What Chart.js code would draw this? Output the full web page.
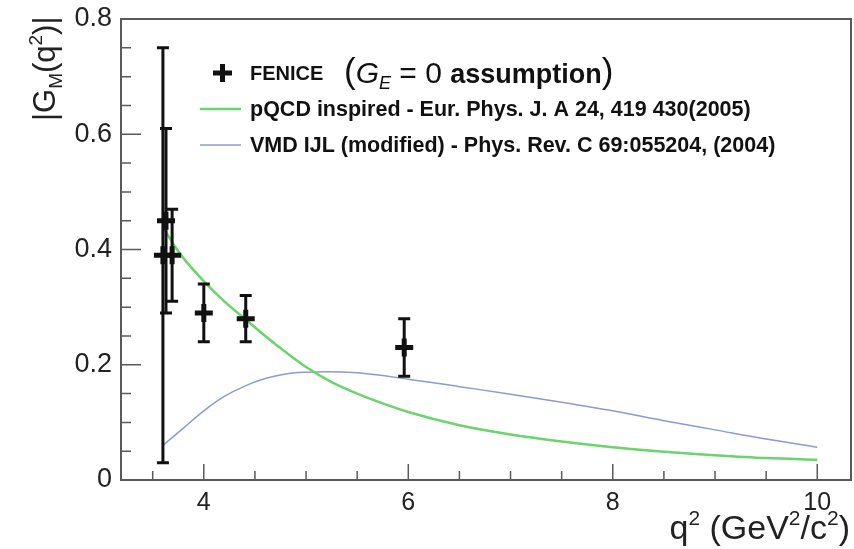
<!DOCTYPE html>
<html>
<head>
<meta charset="utf-8">
<script src="https://cdn.jsdelivr.net/npm/chart.js@4/dist/chart.umd.min.js"></script>
<style>
  html, body { margin: 0; padding: 0; background: #fff; overflow: hidden; }
  #wrap { width: 854px; height: 549px; overflow: hidden; }
</style>
</head>
<body>
<div id="wrap"><canvas id="c" width="865" height="549"></canvas></div>
<script>
// FENICE points
const q2 = [3.6, 3.63, 3.69, 4.0, 4.41, 5.96];
const gm = [0.39, 0.45, 0.39, 0.29, 0.28, 0.23];
const gmLow = [0.03, 0.29, 0.31, 0.24, 0.24, 0.18];
const gmHigh = [0.75, 0.61, 0.47, 0.34, 0.32, 0.28];

// pQCD inspired curve
const pqcdQ2 = [3.6, 3.7, 3.8, 4.0, 4.2, 4.4, 4.6, 4.8, 5.0, 5.25, 5.5, 5.75, 6.0, 6.5, 7.0, 7.5, 8.0, 8.5, 9.0, 9.5, 10.0];
const pqcdGM = [0.44, 0.41, 0.385, 0.345, 0.31, 0.28, 0.25, 0.222, 0.196, 0.17, 0.15, 0.133, 0.118, 0.095, 0.079, 0.067, 0.057, 0.049, 0.043, 0.038, 0.035];

// VMD IJL (modified) curve
const vmdQ2 = [3.6, 3.8, 4.0, 4.2, 4.4, 4.6, 4.8, 5.0, 5.2, 5.5, 6.0, 6.5, 7.0, 7.5, 8.0, 8.5, 9.0, 9.5, 10.0];
const vmdGM = [0.06, 0.09, 0.12, 0.145, 0.163, 0.176, 0.184, 0.187, 0.188, 0.186, 0.175, 0.162, 0.149, 0.135, 0.12, 0.103, 0.087, 0.071, 0.057];

const xTicks = [4, 6, 8, 10];
const yTicks = [0, 0.2, 0.4, 0.6, 0.8];

const GREEN = "rgb(108, 212, 108)";
const BLUE = "rgb(140, 154, 214)";
const FRAME = "#5a5a5a";
const FONT = "'Liberation Sans', Arial, sans-serif";

function pts(xs, ys) {
  return xs.map((x, i) => ({ x: x, y: ys[i] }));
}

// draw a list of text runs left to right, returns the width
function runs(ctx, list, x, y, measureOnly) {
  let cx = x;
  for (const r of list) {
    ctx.font = r.f;
    if (!measureOnly) ctx.fillText(r.t, cx, y + (r.dy || 0));
    cx += ctx.measureText(r.t).width;
  }
  return cx - x;
}

const errorBars = {
  id: "errorBars",
  afterDatasetsDraw(chart) {
    const { ctx, scales } = chart;
    ctx.save();
    ctx.strokeStyle = "#111";
    ctx.lineWidth = 3;
    q2.forEach((x, i) => {
      const px = scales.x.getPixelForValue(x);
      const top = scales.y.getPixelForValue(gmHigh[i]);
      const bot = scales.y.getPixelForValue(gmLow[i]);
      ctx.beginPath();
      ctx.moveTo(px, top);
      ctx.lineTo(px, bot);
      ctx.moveTo(px - 6, top);
      ctx.lineTo(px + 6, top);
      ctx.moveTo(px - 6, bot);
      ctx.lineTo(px + 6, bot);
      ctx.stroke();
    });
    ctx.restore();
  },
};

const frame = {
  id: "rootFrame",
  afterDraw(chart) {
    const { ctx, chartArea: a, scales } = chart;
    ctx.save();
    ctx.strokeStyle = FRAME;
    ctx.lineWidth = 2;
    ctx.strokeRect(a.left, a.top, a.right - a.left, a.bottom - a.top);
    ctx.lineWidth = 1.5;
    ctx.beginPath();
    for (let v = 3.5; v <= 10.01; v += 0.5) {
      const px = scales.x.getPixelForValue(v);
      const len = Math.abs(v - Math.round(v / 2) * 2) < 1e-6 ? 16 : 9;
      ctx.moveTo(px, a.bottom);
      ctx.lineTo(px, a.bottom - len);
    }
    for (let v = 0.05; v < 0.8; v += 0.05) {
      const py = scales.y.getPixelForValue(v);
      const major = Math.abs(v * 5 - Math.round(v * 5)) < 1e-6;
      ctx.moveTo(a.left, py);
      ctx.lineTo(a.left + (major ? 20 : 10), py);
    }
    ctx.stroke();

    // axis titles
    ctx.fillStyle = "#222";
    ctx.textBaseline = "alphabetic";
    const xt = [
      { t: "q", f: "34px " + FONT },
      { t: "2", f: "21px " + FONT, dy: -14 },
      { t: " (GeV", f: "34px " + FONT },
      { t: "2", f: "21px " + FONT, dy: -14 },
      { t: "/c", f: "34px " + FONT },
      { t: "2", f: "21px " + FONT, dy: -14 },
      { t: ")", f: "34px " + FONT },
    ];
    const w = runs(ctx, xt, 0, 0, true);
    runs(ctx, xt, 850 - w, 539);

    ctx.translate(55, 121);
    ctx.rotate(-Math.PI / 2);
    runs(ctx, [
      { t: "|G", f: "31px " + FONT },
      { t: "M", f: "19px " + FONT, dy: 7 },
      { t: "(q", f: "31px " + FONT },
      { t: "2", f: "19px " + FONT, dy: -13 },
      { t: ")|", f: "31px " + FONT },
    ], 0, 0);
    ctx.restore();

    // legend
    ctx.save();
    ctx.fillStyle = "#111";
    ctx.strokeStyle = "#111";
    ctx.lineWidth = 5;
    ctx.beginPath();
    ctx.moveTo(213, 73); ctx.lineTo(232, 73);
    ctx.moveTo(222.5, 64); ctx.lineTo(222.5, 82);
    ctx.stroke();
    ctx.textBaseline = "alphabetic";
    runs(ctx, [{ t: "FENICE", f: "bold 20px " + FONT }], 250, 80);
    runs(ctx, [
      { t: "(", f: "35px " + FONT },
      { t: "G", f: "italic 30px " + FONT },
      { t: "E", f: "italic 18px " + FONT, dy: 6 },
      { t: " = 0 ", f: "30px " + FONT },
      { t: "assumption", f: "bold 27px " + FONT },
      { t: ")", f: "35px " + FONT },
    ], 344, 83);

    ctx.lineWidth = 2.5;
    ctx.strokeStyle = GREEN;
    ctx.beginPath(); ctx.moveTo(200, 109); ctx.lineTo(241, 109); ctx.stroke();
    ctx.lineWidth = 1.5;
    ctx.strokeStyle = BLUE;
    ctx.beginPath(); ctx.moveTo(200, 145); ctx.lineTo(241, 145); ctx.stroke();
    runs(ctx, [{ t: "pQCD inspired - Eur. Phys. J. A 24, 419 430(2005)", f: "bold 21.5px " + FONT }], 250, 116);
    runs(ctx, [{ t: "VMD IJL (modified) - Phys. Rev. C 69:055204, (2004)", f: "bold 21.5px " + FONT }], 250, 152);
    ctx.restore();
  },
};

new Chart(document.getElementById("c"), {
  type: "scatter",
  data: {
    datasets: [
      {
        label: "FENICE",
        data: pts(q2, gm),
        pointStyle: "cross",
        pointRadius: 9,
        pointBorderWidth: 5,
        borderColor: "#111",
        backgroundColor: "#111",
        order: 0,
      },
      {
        type: "line",
        label: "pQCD inspired",
        data: pts(pqcdQ2, pqcdGM),
        borderColor: GREEN,
        borderWidth: 2.5,
        pointRadius: 0,
        fill: false,
        cubicInterpolationMode: "monotone",
        order: 1,
      },
      {
        type: "line",
        label: "VMD IJL (modified)",
        data: pts(vmdQ2, vmdGM),
        borderColor: BLUE,
        borderWidth: 1.5,
        pointRadius: 0,
        fill: false,
        cubicInterpolationMode: "monotone",
        order: 2,
      },
    ],
  },
  options: {
    responsive: false,
    animation: false,
    layout: { padding: { top: 19, right: 0, left: 0, bottom: 0 } },
    plugins: { legend: { display: false }, tooltip: { enabled: false } },
    scales: {
      x: {
        type: "linear",
        min: 3.19,
        max: 10.33,
        afterBuildTicks: (s) => { s.ticks = xTicks.map((v) => ({ value: v })); },
        afterFit: (s) => { s.height = 69; },
        grid: { display: false, drawTicks: false },
        border: { display: false },
        ticks: { padding: 8, color: "#222", font: { family: FONT, size: 25 } },
      },
      y: {
        type: "linear",
        min: 0,
        max: 0.8,
        afterBuildTicks: (s) => { s.ticks = yTicks.map((v) => ({ value: v })); },
        afterFit: (s) => { s.width = 121; s.paddingTop = 0; s.paddingBottom = 0; },
        grid: { display: false, drawTicks: false },
        border: { display: false },
        ticks: { padding: 9, color: "#222", font: { family: FONT, size: 27 } },
      },
    },
  },
  plugins: [errorBars, frame],
});
</script>
</body>
</html>
